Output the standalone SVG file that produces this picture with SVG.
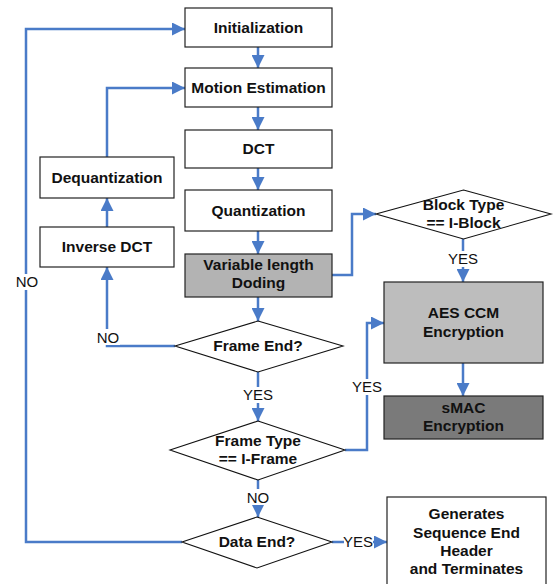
<svg xmlns="http://www.w3.org/2000/svg" width="554" height="584" viewBox="0 0 554 584">
  <defs>
    <marker id="arr" viewBox="0 0 13 13" refX="13" refY="6.5" markerWidth="13" markerHeight="13" markerUnits="userSpaceOnUse" orient="auto">
      <path d="M0,0 L13,6.5 L0,13 Z" fill="#4a7bc8"/>
    </marker>
    <style>
      .box { fill: #ffffff; stroke: #222222; stroke-width: 1.2; }
      .dia { fill: #ffffff; stroke: #111111; stroke-width: 1.1; }
      .t { font-family: "Liberation Sans", Arial, sans-serif; font-size: 15.5px; font-weight: bold; fill: #111111; text-anchor: middle; }
      .lbl { font-family: "Liberation Sans", Arial, sans-serif; font-size: 15px; fill: #111111; text-anchor: middle; }
      .c { fill: none; stroke: #4a7bc8; stroke-width: 2.5; }
      .bg { fill: #ffffff; }
    </style>
  </defs>

  <!-- connectors -->
  <g id="connectors">
    <path class="c" d="M258,47 V68" marker-end="url(#arr)"/>
    <path class="c" d="M258,107 V130" marker-end="url(#arr)"/>
    <path class="c" d="M258,168 V190" marker-end="url(#arr)"/>
    <path class="c" d="M258,231 V254" marker-end="url(#arr)"/>
    <path class="c" d="M258,297 V321" marker-end="url(#arr)"/>
    <path class="c" d="M258,372 V421" marker-end="url(#arr)"/>
    <path class="c" d="M258,480 V517" marker-end="url(#arr)"/>
    <path class="c" d="M332,542 H387" marker-end="url(#arr)"/>
    <path class="c" d="M182,542 H26 V29 H185" marker-end="url(#arr)"/>
    <path class="c" d="M175,346 H107 V267" marker-end="url(#arr)"/>
    <path class="c" d="M107,227 V198" marker-end="url(#arr)"/>
    <path class="c" d="M107,157 V88 H185" marker-end="url(#arr)"/>
    <path class="c" d="M332,275 H352 V214 H376" marker-end="url(#arr)"/>
    <path class="c" d="M463,239 V282" marker-end="url(#arr)"/>
    <path class="c" d="M463,363 V396" marker-end="url(#arr)"/>
    <path class="c" d="M345,450 H367 V323 H384" marker-end="url(#arr)"/>

    <!-- branch labels -->
    <rect class="bg" x="245" y="387" width="27" height="16"/>
    <text class="lbl" x="258" y="400">YES</text>
    <rect class="bg" x="247" y="489" width="23" height="16"/>
    <text class="lbl" x="258" y="503">NO</text>
    <rect class="bg" x="344" y="534" width="29" height="16"/>
    <text class="lbl" x="358" y="547">YES</text>
    <rect class="bg" x="15" y="274" width="24" height="16"/>
    <text class="lbl" x="27" y="287">NO</text>
    <rect class="bg" x="96" y="329" width="24" height="16"/>
    <text class="lbl" x="108" y="343">NO</text>
    <rect class="bg" x="449" y="251" width="29" height="16"/>
    <text class="lbl" x="463" y="264">YES</text>
    <rect class="bg" x="353" y="379" width="29" height="16"/>
    <text class="lbl" x="367" y="392">YES</text>
  </g>

  <g id="initialization">
    <rect class="box" x="185" y="8" width="147" height="39"/>
    <text class="t" x="258.5" y="33">Initialization</text>
  </g>
  <g id="motion-estimation">
    <rect class="box" x="185" y="68" width="147" height="39"/>
    <text class="t" x="258.5" y="93">Motion Estimation</text>
  </g>
  <g id="dct">
    <rect class="box" x="185" y="130" width="147" height="38"/>
    <text class="t" x="258.5" y="154">DCT</text>
  </g>
  <g id="quantization">
    <rect class="box" x="185" y="190" width="147" height="41"/>
    <text class="t" x="258.5" y="216">Quantization</text>
  </g>
  <g id="vld">
    <rect class="box" x="185" y="254" width="147" height="43" style="fill:#b3b3b3"/>
    <text class="t" x="258.5" y="270">Variable length</text>
    <text class="t" x="258.5" y="288">Doding</text>
  </g>
  <g id="dequantization">
    <rect class="box" x="40" y="157" width="134" height="41"/>
    <text class="t" x="107" y="183">Dequantization</text>
  </g>
  <g id="inverse-dct">
    <rect class="box" x="40" y="227" width="134" height="40"/>
    <text class="t" x="107" y="252">Inverse DCT</text>
  </g>
  <g id="frame-end">
    <polygon class="dia" points="258,321 343,346 258,372 175,346"/>
    <text class="t" x="258" y="351">Frame End?</text>
  </g>
  <g id="frame-type">
    <polygon class="dia" points="258,421 345,450 258,480 170,450"/>
    <text class="t" x="258" y="446">Frame Type</text>
    <text class="t" x="258" y="464">== I-Frame</text>
  </g>
  <g id="data-end">
    <polygon class="dia" points="257,517 332,542 257,568 182,542"/>
    <text class="t" x="257" y="547">Data End?</text>
  </g>
  <g id="block-type">
    <polygon class="dia" points="463.5,190 551,214 463.5,239 376,214"/>
    <text class="t" x="463.5" y="210">Block Type</text>
    <text class="t" x="463.5" y="228">== I-Block</text>
  </g>
  <g id="aes-ccm">
    <rect class="box" x="384" y="282" width="159" height="81" style="fill:#bdbdbd"/>
    <text class="t" x="463.5" y="318">AES CCM</text>
    <text class="t" x="463.5" y="337">Encryption</text>
  </g>
  <g id="smac">
    <rect class="box" x="384" y="396" width="159" height="43" style="fill:#7a7a7a"/>
    <text class="t" x="463.5" y="413">sMAC</text>
    <text class="t" x="463.5" y="431">Encryption</text>
  </g>
  <g id="sequence-end">
    <rect class="box" x="387" y="497" width="159" height="89"/>
    <text class="t" x="466.5" y="519">Generates</text>
    <text class="t" x="466.5" y="538">Sequence End</text>
    <text class="t" x="466.5" y="556">Header</text>
    <text class="t" x="466.5" y="574">and Terminates</text>
  </g>
</svg>
